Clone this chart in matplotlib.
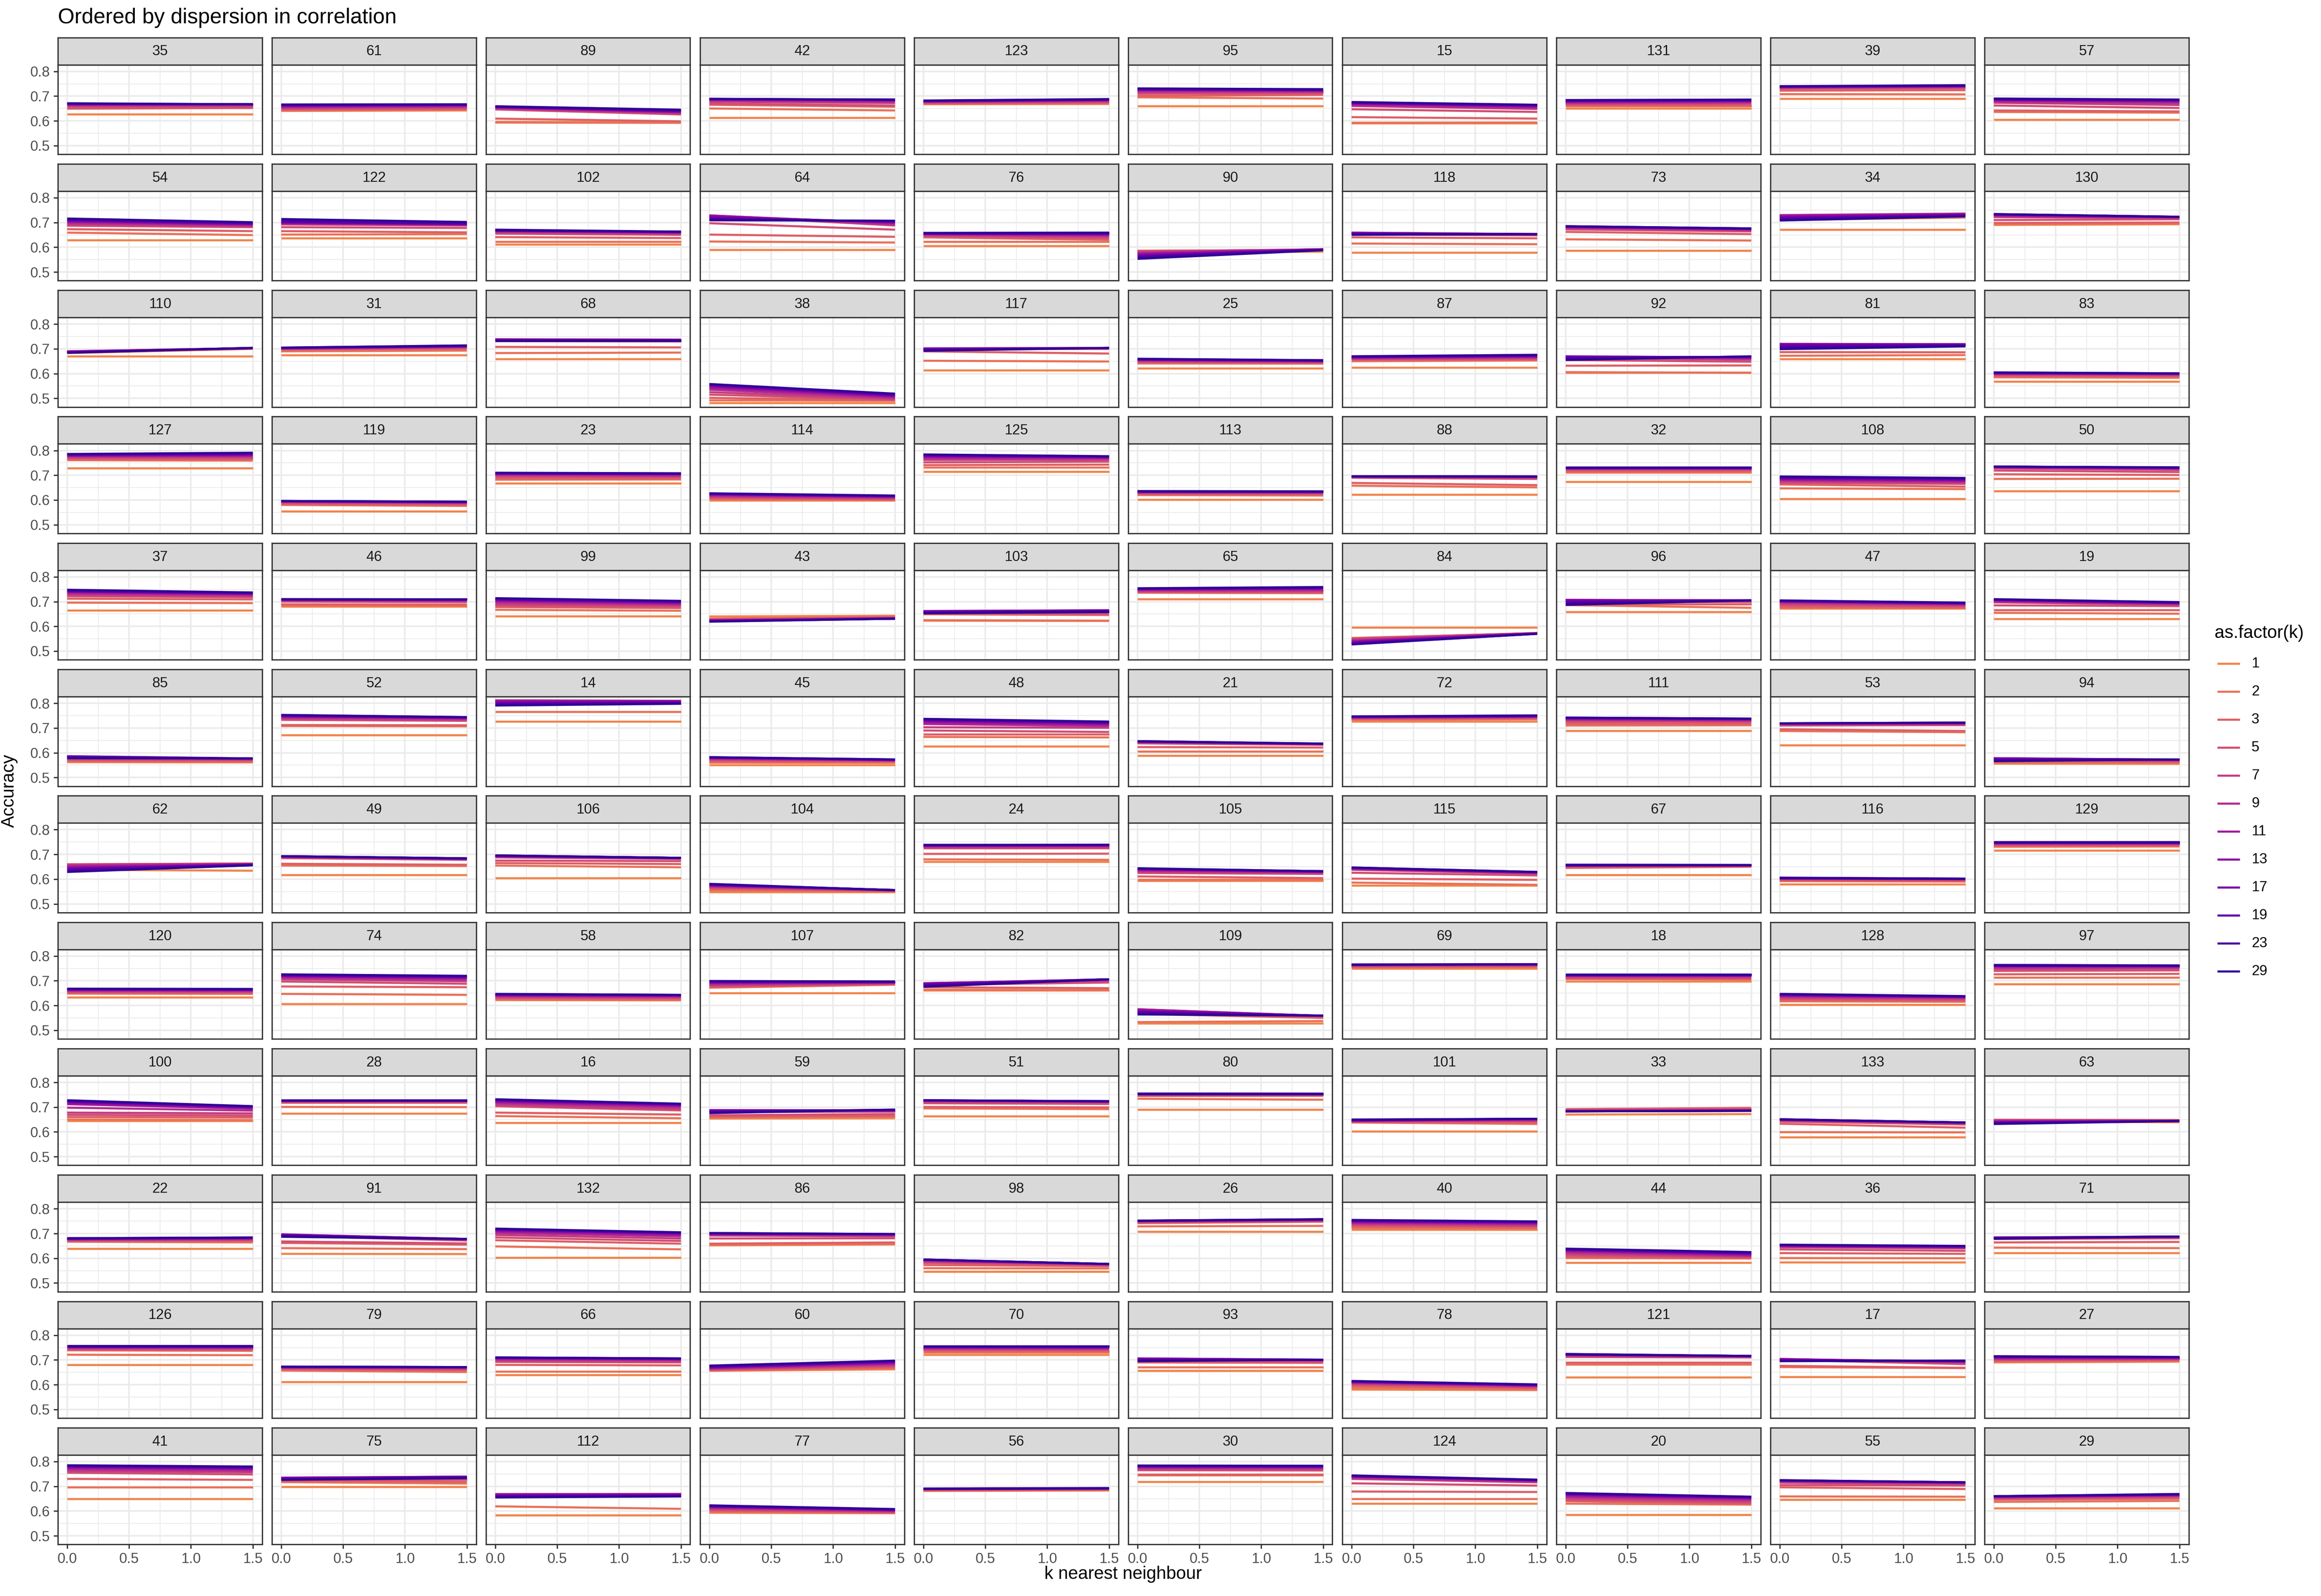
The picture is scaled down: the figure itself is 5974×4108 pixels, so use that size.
import numpy as np
import matplotlib
matplotlib.use("Agg")
import matplotlib.pyplot as plt
from matplotlib.lines import Line2D

plt.rcParams['font.family'] = ['Liberation Sans', 'DejaVu Sans']

# ---------------- data ----------------
k_levels = [1, 2, 3, 5, 7, 9, 11, 13, 17, 19, 23, 29]
x_points = [0.0, 1.5]

panel_ids = [35, 61, 89, 42, 123, 95, 15, 131, 39, 57,
             54, 122, 102, 64, 76, 90, 118, 73, 34, 130,
             110, 31, 68, 38, 117, 25, 87, 92, 81, 83,
             127, 119, 23, 114, 125, 113, 88, 32, 108, 50,
             37, 46, 99, 43, 103, 65, 84, 96, 47, 19,
             85, 52, 14, 45, 48, 21, 72, 111, 53, 94,
             62, 49, 106, 104, 24, 105, 115, 67, 116, 129,
             120, 74, 58, 107, 82, 109, 69, 18, 128, 97,
             100, 28, 16, 59, 51, 80, 101, 33, 133, 63,
             22, 91, 132, 86, 98, 26, 40, 44, 36, 71,
             126, 79, 66, 60, 70, 93, 78, 121, 17, 27,
             41, 75, 112, 77, 56, 30, 124, 20, 55, 29]

# accuracy (x1000) at x = 0, one row per panel, one column per k
acc_at_0 = [
    [626,659,649,655,662,664,666,667,668,669,670,671],
    [640,642,645,648,652,655,658,660,662,664,665,666],
    [596,593,609,646,650,652,654,655,656,657,658,659],
    [613,650,665,670,678,682,685,687,688,689,689,688],
    [667,669,671,673,675,677,678,679,680,681,682,682],
    [659,695,701,710,716,720,723,725,727,729,730,731],
    [590,592,615,647,660,663,667,670,672,674,675,676],
    [650,660,663,667,670,673,676,678,680,682,683,684],
    [689,708,722,730,733,735,736,737,738,739,739,740],
    [605,636,642,662,673,678,682,684,686,688,689,690],
    [629,659,673,687,692,697,702,705,708,711,713,716],
    [637,651,665,681,692,696,698,699,701,703,708,714],
    [611,622,641,655,660,663,665,667,669,670,671,668],
    [590,623,651,697,728,729,728,725,720,716,712,709],
    [606,623,640,645,649,651,653,654,655,656,657,658],
    [580,586,585,583,580,577,574,570,566,562,558,553],
    [578,615,640,652,656,658,659,658,656,654,652,650],
    [587,632,662,672,676,679,681,682,683,684,685,685],
    [671,710,722,728,730,729,727,724,720,716,712,708],
    [690,694,698,710,722,726,729,731,732,733,734,734],
    [670,683,686,689,690,690,689,688,687,686,685,684],
    [675,690,697,699,700,701,702,703,704,704,705,705],
    [659,683,708,731,735,739,738,737,736,735,734,733],
    [482,492,502,515,525,535,542,548,552,555,557,558],
    [614,652,690,699,701,702,702,701,699,697,695,692],
    [621,641,645,648,651,653,655,656,657,658,659,660],
    [625,650,655,658,660,662,664,666,667,668,669,670],
    [603,606,632,655,664,667,669,670,668,664,660,655],
    [659,672,687,708,716,720,720,719,716,710,705,699],
    [568,585,590,594,597,599,600,601,602,603,604,605],
    [728,761,765,770,773,776,778,780,782,784,785,786],
    [555,580,583,588,591,593,594,595,595,596,596,596],
    [668,682,687,694,699,702,704,706,707,708,709,710],
    [598,603,606,610,614,617,620,622,624,625,626,627],
    [714,732,741,752,762,768,773,776,779,781,783,784],
    [602,620,624,627,629,631,632,633,634,635,635,636],
    [622,658,669,690,693,694,695,695,695,696,696,696],
    [674,712,718,722,725,727,728,729,730,731,732,732],
    [605,647,663,670,675,679,682,685,688,690,693,695],
    [636,685,704,719,728,731,733,734,735,735,735,735],
    [665,696,712,722,728,733,737,740,742,744,746,748],
    [681,684,689,700,704,706,707,708,709,709,710,710],
    [641,667,678,684,690,697,702,705,708,710,712,714],
    [640,631,629,627,626,625,624,623,622,621,620,619],
    [623,625,649,655,660,662,662,661,659,657,655,653],
    [710,736,738,741,744,746,748,750,751,752,753,754],
    [596,553,552,549,546,543,540,537,534,531,529,527],
    [658,686,690,700,705,707,707,706,703,698,693,687],
    [672,675,679,686,692,696,699,701,702,703,704,705],
    [630,655,666,685,697,701,704,706,707,708,709,710],
    [562,565,568,572,576,580,583,585,586,584,581,578],
    [672,708,712,733,738,742,745,747,749,751,752,753],
    [726,765,800,808,811,812,810,806,802,798,794,791],
    [550,560,565,570,573,576,578,579,580,581,582,582],
    [626,664,675,690,703,716,722,727,731,734,736,737],
    [588,605,623,638,641,643,644,645,646,647,647,646],
    [727,733,736,738,740,742,743,744,745,746,746,747],
    [689,710,718,726,731,734,736,738,740,741,742,742],
    [631,688,695,710,714,716,717,718,718,719,719,719],
    [556,560,565,570,574,577,578,578,576,573,570,566],
    [638,660,660,659,657,654,650,646,642,638,633,629],
    [617,655,662,685,688,690,691,692,692,693,693,693],
    [605,655,665,675,688,691,693,694,695,695,696,696],
    [548,555,560,565,568,571,573,575,577,578,579,581],
    [671,680,702,726,730,732,734,735,736,737,738,739],
    [594,598,611,625,630,634,637,639,641,642,643,644],
    [574,586,602,626,638,641,643,644,645,646,647,647],
    [617,645,648,650,652,654,655,656,657,658,658,656],
    [579,592,595,598,600,601,602,603,604,605,606,605],
    [716,731,735,739,742,744,746,747,748,749,750,749],
    [633,648,651,655,658,660,662,664,665,666,667,668],
    [606,647,677,697,706,712,716,719,721,723,725,726],
    [622,624,628,632,635,638,640,642,644,645,646,647],
    [651,672,675,678,682,686,690,693,695,697,698,699],
    [661,664,674,683,687,690,690,689,686,683,680,676],
    [528,533,566,580,585,585,583,580,576,572,568,564],
    [750,753,756,759,761,763,764,765,766,766,765,764],
    [698,707,709,712,716,719,721,722,723,724,725,726],
    [604,617,622,627,632,636,639,641,643,645,646,647],
    [686,714,726,740,748,753,757,760,762,764,764,762],
    [645,650,660,669,678,698,712,718,722,724,726,728],
    [674,701,718,722,724,725,726,727,727,728,728,728],
    [637,664,678,704,710,716,720,724,727,729,731,732],
    [654,658,662,667,680,685,687,688,686,683,680,676],
    [663,695,701,716,722,725,726,727,727,728,728,728],
    [690,734,745,750,752,753,754,755,755,755,754,753],
    [602,638,640,642,643,644,645,646,647,648,649,650],
    [670,690,692,688,686,685,684,684,683,683,683,683],
    [579,599,633,642,646,648,649,650,651,651,651,650],
    [642,648,649,648,646,644,642,640,638,636,634,632],
    [639,667,670,672,674,676,677,678,679,680,681,681],
    [618,641,662,668,690,696,697,696,694,692,690,687],
    [602,648,673,684,694,702,708,712,715,717,719,720],
    [652,655,659,680,692,696,698,699,700,701,702,702],
    [546,560,573,582,587,590,592,593,594,595,595,595],
    [708,729,742,746,748,749,750,751,751,752,752,752],
    [716,722,728,734,738,742,745,748,750,752,754,755],
    [582,601,605,612,618,624,628,632,634,636,638,639],
    [584,601,621,636,645,648,650,651,652,653,654,655],
    [622,643,664,678,681,683,684,684,683,682,681,679],
    [680,721,739,745,748,750,752,753,754,755,756,757],
    [611,657,662,665,667,669,670,671,672,672,673,673],
    [640,654,680,692,698,702,705,707,708,709,710,710],
    [656,657,659,661,663,665,667,669,671,673,675,677],
    [721,731,737,741,744,747,749,751,753,754,755,756],
    [656,671,690,697,702,704,706,706,704,701,698,695],
    [580,587,595,600,604,607,609,611,612,613,614,615],
    [630,681,690,712,716,719,721,722,723,724,724,722],
    [631,671,676,700,704,704,703,702,700,698,696,695],
    [690,693,697,700,703,706,708,710,712,713,714,715],
    [649,696,730,755,762,768,773,777,780,782,784,785],
    [698,717,722,728,732,734,735,734,732,730,728,726],
    [584,619,662,667,669,668,667,665,662,660,657,655],
    [593,597,601,605,609,612,615,617,619,620,622,623],
    [681,683,685,686,687,688,689,689,690,690,691,690],
    [718,745,748,765,770,774,777,779,781,782,783,784],
    [630,649,679,712,730,735,738,740,741,742,743,744],
    [585,630,640,646,652,657,661,665,668,670,672,673],
    [646,659,696,705,715,720,722,723,724,724,725,724],
    [612,637,646,650,653,655,657,658,659,660,660,660],
]

# accuracy (x1000) at x = 1.5
acc_at_15 = [
    [626,652,652,655,662,664,666,667,667,667,667,667],
    [642,645,648,651,655,658,661,663,664,665,666,667],
    [594,592,598,626,630,633,635,637,639,641,643,645],
    [613,642,657,662,672,677,681,683,684,685,686,686],
    [668,670,673,676,679,681,683,684,685,686,687,688],
    [659,690,705,712,716,719,721,723,724,725,727,728],
    [590,593,609,636,648,652,656,659,661,663,664,665],
    [650,660,663,668,672,675,678,680,682,684,685,686],
    [689,707,724,732,736,738,739,740,741,742,743,744],
    [605,633,638,652,664,672,677,680,682,684,685,686],
    [629,649,665,681,685,688,691,693,695,697,699,701],
    [637,653,660,678,688,690,692,693,694,695,698,702],
    [611,622,637,650,654,657,659,660,661,662,663,663],
    [590,619,642,671,688,693,697,700,702,704,706,707],
    [606,623,630,637,643,647,650,652,654,655,657,659],
    [582,588,590,591,592,592,592,591,590,590,589,588],
    [578,612,636,648,651,652,653,653,653,653,653,653],
    [587,627,653,664,668,671,672,673,674,675,676,676],
    [671,720,733,735,736,735,734,732,730,728,726,725],
    [693,696,700,713,718,720,721,722,722,723,723,723],
    [670,700,701,702,703,703,703,703,703,704,704,704],
    [675,693,700,704,706,708,709,710,711,712,713,714],
    [659,685,706,730,734,737,737,736,735,735,734,733],
    [482,490,492,495,498,502,506,509,512,515,517,519],
    [614,649,681,700,702,703,703,703,703,704,704,704],
    [621,640,643,645,647,649,650,651,652,653,654,654],
    [625,653,657,660,663,666,668,670,672,673,675,676],
    [604,603,633,648,656,660,663,665,667,668,669,670],
    [659,675,686,712,716,718,719,719,718,716,713,710],
    [568,583,588,592,595,597,598,599,600,600,601,601],
    [728,759,764,770,774,777,780,782,785,787,789,791],
    [555,576,579,584,587,589,590,591,592,592,593,593],
    [668,683,686,692,696,699,702,704,705,706,707,708],
    [598,600,602,604,607,610,612,614,615,616,617,618],
    [714,732,743,755,763,767,770,772,774,775,776,777],
    [602,618,622,626,628,630,631,632,633,634,635,635],
    [622,651,660,685,690,692,693,694,694,695,695,695],
    [674,712,718,722,725,727,728,729,730,731,732,732],
    [605,644,654,665,670,674,677,680,683,685,687,689],
    [636,686,701,713,722,726,728,729,730,731,731,732],
    [665,694,709,718,722,726,729,731,733,734,736,737],
    [681,683,688,698,702,704,706,707,708,709,709,710],
    [641,663,674,680,685,689,692,695,698,700,702,703],
    [643,640,637,635,634,633,632,632,631,631,631,631],
    [622,623,646,652,660,664,665,665,664,662,660,658],
    [710,734,736,740,744,747,750,752,754,756,757,759],
    [596,572,573,573,573,572,572,571,571,570,570,570],
    [658,675,690,700,703,704,705,705,705,705,705,705],
    [672,674,677,681,685,688,690,692,693,694,695,696],
    [630,651,666,682,688,690,692,694,695,696,697,698],
    [561,563,566,570,572,574,575,576,577,577,577,577],
    [672,707,711,729,733,737,739,741,742,743,744,744],
    [726,765,800,806,809,810,809,807,804,802,800,798],
    [550,559,564,566,568,569,570,571,572,572,573,573],
    [626,662,675,684,701,708,713,717,720,722,724,726],
    [588,605,621,632,634,635,636,636,636,636,637,637],
    [727,735,739,741,743,745,746,747,748,749,750,751],
    [689,711,716,724,728,731,733,735,736,737,738,738],
    [631,683,688,712,716,718,719,720,721,721,722,722],
    [555,560,563,566,568,570,571,572,573,573,573,573],
    [634,662,663,663,662,661,660,659,658,657,656,656],
    [617,653,658,678,680,681,682,683,683,684,684,684],
    [605,648,661,673,682,684,685,685,686,686,686,686],
    [548,550,552,553,554,555,555,556,556,556,556,555],
    [671,678,703,726,730,733,735,736,737,738,739,739],
    [594,598,604,621,624,627,629,630,631,632,632,632],
    [574,577,597,615,622,624,626,627,628,628,629,629],
    [617,650,652,653,654,655,656,656,657,657,657,657],
    [579,590,593,596,598,599,600,601,601,602,602,601],
    [716,732,736,739,742,744,746,747,748,749,750,749],
    [633,647,650,654,657,659,661,663,664,665,666,667],
    [606,643,674,688,698,704,709,712,715,717,719,720],
    [621,622,626,630,633,636,638,640,641,642,643,643],
    [651,684,686,688,690,692,693,694,695,696,697,697],
    [661,662,670,693,700,703,705,706,706,706,706,706],
    [528,537,550,555,557,558,558,559,559,559,559,559],
    [750,755,758,761,763,764,765,766,766,767,767,767],
    [698,705,707,710,714,718,720,722,723,724,725,726],
    [604,615,619,623,627,630,633,634,635,636,637,638],
    [686,714,728,742,750,754,757,759,760,761,762,762],
    [645,648,658,666,675,686,694,698,700,702,703,704],
    [674,700,718,722,724,725,726,727,727,728,728,728],
    [637,655,670,687,693,700,704,707,710,712,713,714],
    [655,662,664,672,682,685,686,687,688,689,690,690],
    [663,692,699,713,719,722,723,724,724,724,724,723],
    [690,730,746,750,752,753,754,754,754,754,754,753],
    [602,632,637,643,646,648,650,652,653,653,653,653],
    [672,690,697,692,689,688,687,686,686,685,685,685],
    [579,598,617,630,634,636,637,637,638,638,638,638],
    [639,641,648,646,645,645,645,644,644,644,644,644],
    [639,664,670,673,676,678,680,681,682,683,684,684],
    [617,637,655,660,672,676,677,678,678,678,678,678],
    [602,636,659,670,680,689,694,698,701,703,704,705],
    [656,658,664,681,689,693,695,696,697,697,698,698],
    [546,559,568,572,574,575,576,576,577,577,577,577],
    [708,731,748,751,753,754,755,756,757,757,758,758],
    [716,720,724,729,733,737,740,743,745,747,748,749],
    [582,599,601,604,607,610,613,616,619,621,623,625],
    [584,600,618,630,640,643,645,646,647,648,649,650],
    [622,641,666,681,684,686,687,688,688,688,688,688],
    [680,719,737,745,748,750,752,753,754,755,756,757],
    [611,651,658,662,665,667,669,670,670,671,671,671],
    [640,654,678,690,695,699,701,703,704,705,706,706],
    [662,666,670,675,679,683,686,689,692,694,696,697],
    [721,731,737,740,743,746,748,750,752,754,755,756],
    [656,671,688,693,697,699,700,701,701,701,701,701],
    [578,580,585,589,592,594,596,597,598,599,600,601],
    [630,681,690,710,713,714,715,715,716,716,716,716],
    [631,667,668,683,688,691,693,694,695,696,697,697],
    [693,696,699,702,704,706,708,709,710,711,712,712],
    [649,696,726,748,757,763,768,771,774,776,778,780],
    [698,711,718,728,735,738,739,739,738,736,735,733],
    [584,609,662,666,669,669,668,666,664,662,660,659],
    [591,592,594,596,598,600,602,603,605,606,607,608],
    [683,685,687,688,689,690,691,691,692,692,693,692],
    [718,745,748,764,769,773,776,778,780,781,782,783],
    [630,649,677,703,716,720,722,724,725,726,726,727],
    [585,626,630,634,640,645,649,652,654,656,657,658],
    [646,658,689,703,708,712,714,715,716,716,716,716],
    [612,641,650,656,660,662,664,665,666,667,668,669],
]

x_tick_labels = ["0.0", "0.5", "1.0", "1.5"]
y_tick_labels = ["0.5", "0.6", "0.7", "0.8"]

# ---------------- figure ----------------
W, H, DPI = 5974, 4108, 300
fig = plt.figure(figsize=(W / DPI, H / DPI), dpi=DPI)
fig.patch.set_facecolor("white")


def rect(l, t, w, h):
    return [l / W, 1 - (t + h) / H, w / W, h / H]


cmap = plt.get_cmap("plasma")
colors = [cmap(v) for v in np.linspace(0.70, 0.06, len(k_levels))]

NCOL = 10
PW, PH = 525.5, 230.5
STRIP_H = 70.0
BORDER = "#333333"

for i, pid in enumerate(panel_ids):
    r, c = divmod(i, NCOL)
    left = 149.0 + c * 551.0
    ptop = 166.5 + r * 325.3
    ax = fig.add_axes(rect(left, ptop, PW, PH))
    sax = fig.add_axes(rect(left, ptop - STRIP_H, PW, STRIP_H))

    # strip
    sax.set_facecolor("#D9D9D9")
    sax.set_xticks([])
    sax.set_yticks([])
    for sp in sax.spines.values():
        sp.set_color(BORDER)
        sp.set_linewidth(0.8)
    sax.text(0.5, 0.48, str(pid), ha="center", va="center",
             fontsize=8.8, color="#1A1A1A", transform=sax.transAxes)

    # panel
    ax.set_facecolor("white")
    ax.set_xlim(-0.075, 1.575)
    ax.set_ylim(0.465, 0.827)
    ax.set_xticks([0.0, 0.5, 1.0, 1.5])
    ax.set_xticks([0.25, 0.75, 1.25], minor=True)
    ax.set_yticks([0.5, 0.6, 0.7, 0.8])
    ax.set_yticks([0.55, 0.65, 0.75], minor=True)
    ax.grid(which="major", color="#EBEBEB", linewidth=1.0)
    ax.grid(which="minor", color="#EBEBEB", linewidth=0.5)
    ax.set_axisbelow(True)
    for sp in ax.spines.values():
        sp.set_color(BORDER)
        sp.set_linewidth(0.8)
        sp.set_zorder(5)
    ax.tick_params(which="minor", length=0)
    ax.tick_params(which="major", length=2.75, width=0.8, color=BORDER,
                   labelsize=8.8, labelcolor="#4D4D4D", pad=2.2)
    if c == 0:
        ax.set_yticklabels(y_tick_labels)
    else:
        ax.tick_params(axis="y", length=0, labelleft=False)
    if r == len(panel_ids) // NCOL - 1:
        ax.set_xticklabels(x_tick_labels)
    else:
        ax.tick_params(axis="x", length=0, labelbottom=False)

    for j, k in enumerate(k_levels):
        ax.plot(x_points, [acc_at_0[i][j] / 1000.0, acc_at_15[i][j] / 1000.0],
                color=colors[j], linewidth=1.3, solid_capstyle="butt", zorder=3)

# titles
fig.text(149 / W, 1 - 20 / H, "Ordered by dispersion in correlation",
         ha="left", va="top", fontsize=13.2, color="black")
fig.text((149 + 5633) / 2 / W, 1 - 4030 / H, "k nearest neighbour",
         ha="center", va="top", fontsize=11, color="black")
fig.text(24 / W, 1 - 2036 / H, "Accuracy", rotation=90,
         ha="center", va="center", fontsize=11, color="black")

# legend
fig.text(5700 / W, 1 - 1630 / H, "as.factor(k)", ha="left", va="center",
         fontsize=11, color="black")
for j, k in enumerate(k_levels):
    yk = 1708 + j * 72.0
    fig.add_artist(Line2D([5707 / W, 5765 / W], [1 - yk / H, 1 - yk / H],
                          color=colors[j], linewidth=1.3,
                          solid_capstyle="butt", transform=fig.transFigure))
    fig.text(5795 / W, 1 - yk / H, str(k), ha="left", va="center",
             fontsize=8.8, color="black")

fig.savefig("out.png", dpi=DPI, facecolor="white")
